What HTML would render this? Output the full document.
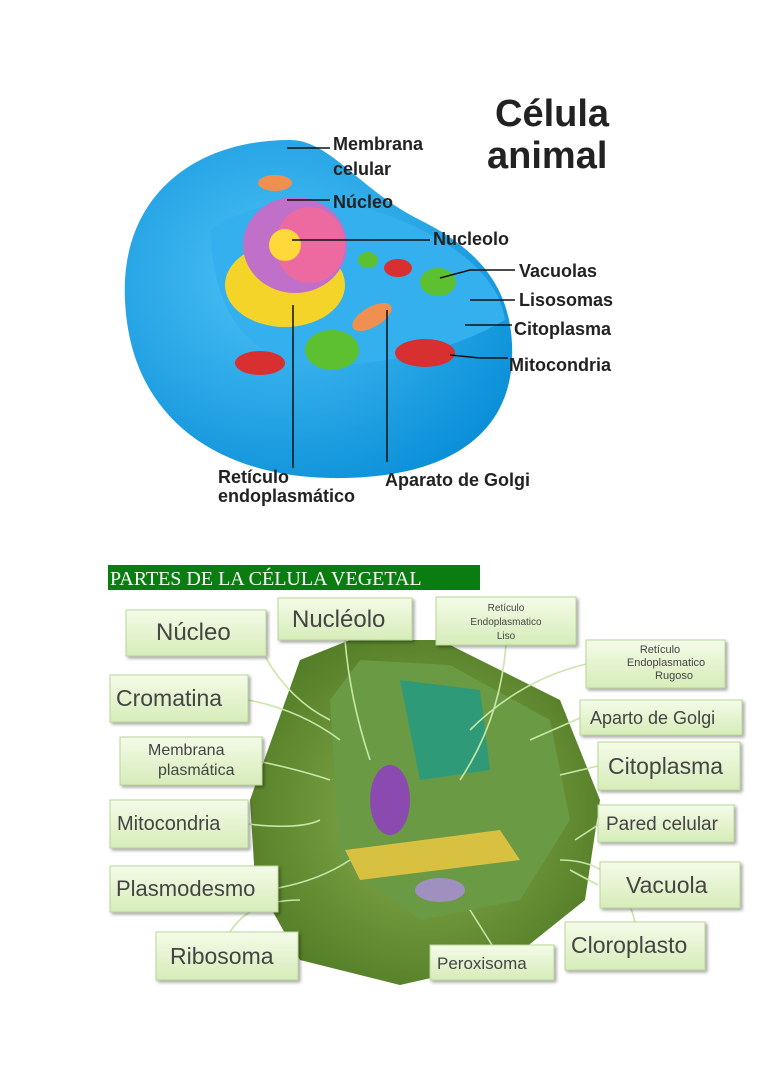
<!DOCTYPE html>
<html><head><meta charset="utf-8"><style>
html,body{margin:0;padding:0;background:#fff;}
body{width:768px;height:1087px;position:relative;overflow:hidden;font-family:"Liberation Sans",sans-serif;}
svg{position:absolute;left:0;top:0;}
</style></head><body>
<svg width="768" height="1087" viewBox="0 0 768 1087">
<defs>
<linearGradient id="bx" x1="0" y1="0" x2="0" y2="1"><stop offset="0" stop-color="#f4fbe8"/><stop offset="1" stop-color="#d6ecb8"/></linearGradient>
<radialGradient id="bl" cx="0.4" cy="0.4" r="0.7"><stop offset="0" stop-color="#4fc3f7"/><stop offset="1" stop-color="#0a8fd8"/></radialGradient>
<radialGradient id="gr" cx="0.5" cy="0.5" r="0.6"><stop offset="0" stop-color="#8cb050"/><stop offset="1" stop-color="#4f7a24"/></radialGradient>
<filter id="sh"><feDropShadow dx="2" dy="2" stdDeviation="1.5" flood-opacity="0.35"/></filter>
</defs>
<!-- Animal cell -->
<path d="M125 300 C120 200 190 140 290 140 C330 140 360 190 420 220 C480 250 515 290 512 360 C508 440 440 480 330 478 C220 476 130 420 125 300Z" fill="url(#bl)"/>
<path d="M210 230 C250 200 330 190 400 220 C460 245 500 280 505 320 C470 340 420 360 340 365 C260 368 215 330 210 230Z" fill="#34b0ee"/>
<ellipse cx="285" cy="285" rx="60" ry="42" fill="#f5d42a"/>
<ellipse cx="295" cy="245" rx="52" ry="48" fill="#c070c8"/>
<ellipse cx="310" cy="245" rx="35" ry="38" fill="#ec6aa0"/>
<circle cx="285" cy="245" r="16" fill="#ffd93a"/>
<ellipse cx="332" cy="350" rx="27" ry="20" fill="#5cc030"/>
<ellipse cx="438" cy="282" rx="18" ry="14" fill="#5cc030"/>
<ellipse cx="368" cy="260" rx="10" ry="8" fill="#5cc030"/>
<ellipse cx="260" cy="363" rx="25" ry="12" fill="#d83030"/>
<ellipse cx="425" cy="353" rx="30" ry="14" fill="#d83030"/>
<ellipse cx="398" cy="268" rx="14" ry="9" fill="#d83030"/>
<ellipse cx="372" cy="317" rx="22" ry="10" fill="#f09050" transform="rotate(-30 372 317)"/>
<ellipse cx="275" cy="183" rx="17" ry="8" fill="#f09050"/>
<g stroke="#111" stroke-width="1.5" fill="none">
<path d="M287 148 H330"/><path d="M287 200 H330"/><path d="M292 240 H430"/>
<path d="M440 278 L470 270 H515"/><path d="M470 300 H515"/><path d="M465 325 H512"/>
<path d="M450 355 L480 358 H508"/><path d="M293 305 V468"/><path d="M387 310 V462"/>
</g>
<g font-weight="bold" fill="#222" font-size="18">
<text x="333" y="150">Membrana</text><text x="333" y="175">celular</text>
<text x="333" y="208">Núcleo</text><text x="433" y="245">Nucleolo</text>
<text x="519" y="277">Vacuolas</text><text x="519" y="306">Lisosomas</text>
<text x="514" y="335">Citoplasma</text><text x="509" y="371">Mitocondria</text>
<text x="218" y="483">Retículo</text><text x="218" y="502">endoplasmático</text>
<text x="385" y="486">Aparato de Golgi</text>
<text x="495" y="126" font-size="38">Célula</text><text x="487" y="168" font-size="38">animal</text>
</g>
<!-- Header -->
<rect x="108" y="565" width="372" height="25" fill="#0a7d10"/>
<text x="110" y="585" fill="#fff" font-family="Liberation Serif,serif" font-size="20">PARTES DE LA CÉLULA VEGETAL</text>
<!-- Plant cell -->
<path d="M250 800 L300 660 L350 640 L440 640 L560 700 L600 800 L585 900 L510 960 L400 985 L300 960 L255 880Z" fill="url(#gr)"/>
<path d="M330 700 L360 660 L450 665 L550 720 L570 820 L520 900 L420 920 L340 860 Z" fill="#6a9a44"/>
<path d="M400 680 L480 690 L490 770 L420 780 Z" fill="#2e9a78"/>
<path d="M345 850 L500 830 L520 860 L360 880 Z" fill="#d8c040"/>
<ellipse cx="390" cy="800" rx="20" ry="35" fill="#8a4ab0"/>
<ellipse cx="440" cy="890" rx="25" ry="12" fill="#a090c0"/>
<g stroke="#c8e6a8" stroke-width="1.6" fill="none">
<path d="M266 658 Q290 700 330 720"/><path d="M345 640 Q350 700 370 760"/>
<path d="M506 645 Q500 720 460 780"/><path d="M586 664 Q520 680 470 730"/>
<path d="M580 718 L530 740"/><path d="M598 766 L560 775"/>
<path d="M248 700 Q300 710 340 740"/><path d="M262 762 Q300 770 330 780"/>
<path d="M248 824 Q300 830 320 820"/><path d="M278 888 Q320 880 350 860"/>
<path d="M230 932 Q250 900 300 900"/><path d="M492 945 L470 910"/>
<path d="M635 922 Q620 860 560 860"/><path d="M598 885 L570 870"/><path d="M598 825 L575 840"/>
</g>
<g filter="url(#sh)" fill="url(#bx)" stroke="#b8d898" stroke-width="1">
<rect x="126" y="610" width="140" height="46"/><rect x="278" y="598" width="134" height="42"/>
<rect x="436" y="597" width="140" height="48"/><rect x="586" y="640" width="139" height="48"/>
<rect x="110" y="675" width="138" height="47"/><rect x="580" y="700" width="162" height="35"/>
<rect x="120" y="737" width="142" height="48"/><rect x="598" y="742" width="142" height="48"/>
<rect x="110" y="800" width="138" height="48"/><rect x="598" y="805" width="136" height="37"/>
<rect x="110" y="866" width="168" height="46"/><rect x="600" y="862" width="140" height="46"/>
<rect x="156" y="932" width="142" height="48"/><rect x="430" y="945" width="124" height="35"/>
<rect x="565" y="922" width="140" height="48"/>
</g>
<g fill="#444">
<text x="156" y="640" font-size="24">Núcleo</text>
<text x="292" y="627" font-size="24">Nucléolo</text>
<text x="506" y="611" font-size="10" text-anchor="middle">Retículo</text>
<text x="506" y="625" font-size="10" text-anchor="middle">Endoplasmatico</text>
<text x="506" y="639" font-size="10" text-anchor="middle">Liso</text>
<text x="660" y="653" font-size="11" text-anchor="middle">Retículo</text>
<text x="666" y="666" font-size="11" text-anchor="middle">Endoplasmatico</text>
<text x="674" y="679" font-size="11" text-anchor="middle">Rugoso</text>
<text x="116" y="706" font-size="23">Cromatina</text>
<text x="590" y="724" font-size="18">Aparto de Golgi</text>
<text x="148" y="755" font-size="16">Membrana</text>
<text x="158" y="775" font-size="16">plasmática</text>
<text x="608" y="774" font-size="23">Citoplasma</text>
<text x="117" y="830" font-size="20">Mitocondria</text>
<text x="606" y="830" font-size="19">Pared celular</text>
<text x="116" y="896" font-size="22">Plasmodesmo</text>
<text x="626" y="893" font-size="23">Vacuola</text>
<text x="170" y="964" font-size="23">Ribosoma</text>
<text x="437" y="969" font-size="17">Peroxisoma</text>
<text x="571" y="953" font-size="23">Cloroplasto</text>
</g>
</svg>
</body></html>
